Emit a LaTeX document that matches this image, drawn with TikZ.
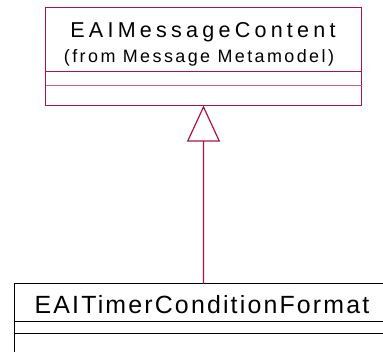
\documentclass[tikz,border=0pt]{standalone}
\usepackage{fontspec}
\setmainfont{Liberation Sans}
\usetikzlibrary{arrows.meta}
\definecolor{umlred}{RGB}{168,20,72}
\definecolor{umlpink}{RGB}{196,96,136}
\tikzset{
  classbox/.style={line width=1.4bp, inner sep=0pt, outer sep=0pt, anchor=north west},
  divider/.style={line width=1.4bp},
  titletext/.style={anchor=base, inner sep=0pt, text=black},
  inherit/.style={draw=umlred, line width=1.2bp, -{Triangle[open, length=36bp, width=33bp]}}
}
\begin{document}
\begin{tikzpicture}[x=1bp,y=-1bp]
\useasboundingbox (0,0) rectangle (383,352);
\clip (0,0) rectangle (383,352);
% texts first
\node[titletext] (supername) at (203,37) {\fontsize{21.6}{24}\selectfont\addfontfeature{LetterSpace=19.7}EAIMessageContent};
\node[titletext] (superpkg) at (199,62.5) {\fontsize{18}{20}\selectfont\addfontfeature{LetterSpace=13.5}(from Message Metamodel)};
\node[titletext] (subname) at (202,313.5) {\fontsize{25}{28}\selectfont\addfontfeature{LetterSpace=8.7}EAITimerConditionFormat};
% top class
\node[classbox, draw=umlred, minimum width=316bp, minimum height=98bp] (super) at (45.5,7.5) {};
\draw[divider, draw=umlred] (super.west |- 0,71.5) -- (super.east |- 0,71.5);
\draw[divider, draw=umlpink] (super.west |- 0,85.5) -- (super.east |- 0,85.5);
% bottom class
\node[classbox, draw=black, line width=1.1bp, minimum width=378bp, minimum height=100bp] (sub) at (14.5,283.5) {};
\draw[divider, draw=black, line width=1.1bp] (sub.west |- 0,321.5) -- (sub.east |- 0,321.5);
\draw[divider, draw=black, line width=1.1bp] (sub.west |- 0,333.5) -- (sub.east |- 0,333.5);
% generalization
\draw[inherit] (sub.north) -- (super.south);
\end{tikzpicture}
\end{document}
